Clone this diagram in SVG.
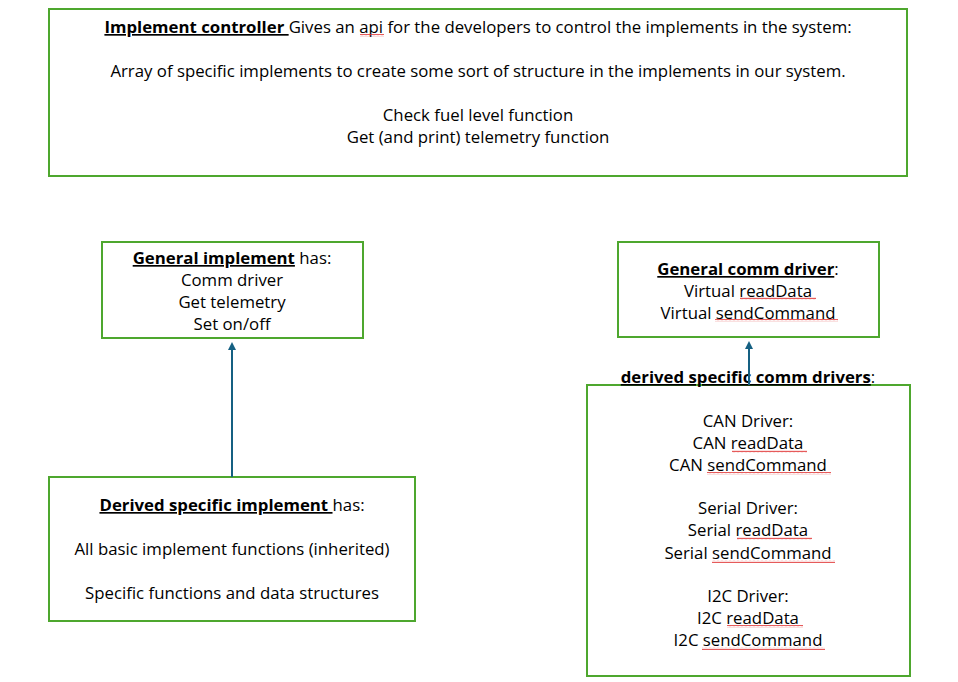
<svg xmlns="http://www.w3.org/2000/svg" width="958" height="682" viewBox="0 0 958 682">
<style>
.box{fill:#fff;stroke:#4ea72e;stroke-width:2}
text{font-family:"Open Sans","Liberation Sans",Arial,sans-serif;font-size:16.8px;fill:#000;text-anchor:middle}
.b{font-weight:bold;text-decoration:underline}
.conn{stroke:#156082;stroke-width:2;fill:none}
.sq{fill:url(#wave)}
</style>
<defs>
<marker id="ah" markerWidth="8" markerHeight="8" refX="4" refY="4" orient="auto" markerUnits="userSpaceOnUse">
<path d="M0,0 L8,4 L0,8 z" fill="#156082"/>
</marker>
<pattern id="wave" patternUnits="userSpaceOnUse" width="4" height="3">
<path d="M0,2.2 L1,0.8 L2,2.2 L3,0.8 L4,2.2" fill="none" stroke="#e03030" stroke-width="0.8"/>
</pattern>
</defs>
<rect width="958" height="682" fill="#fff"/>
<g id="controller">
<rect class="box" x="49" y="9" width="858" height="167"/>
<text x="478" y="33"><tspan class="b">Implement controller </tspan>Gives an api for the developers to control the implements in the system:</text>
<text x="478" y="77">Array of specific implements to create some sort of structure in the implements in our system.</text>
<text x="478" y="121">Check fuel level function</text>
<text x="478" y="143">Get (and print) telemetry function</text>
<rect class="sq" x="360" y="34" width="24" height="3"/>
</g>
<g id="general-implement">
<rect class="box" x="102" y="242" width="261" height="96"/>
<text x="232" y="264"><tspan class="b">General implement</tspan> has:</text>
<text x="232" y="286">Comm driver</text>
<text x="232" y="308">Get telemetry</text>
<text x="232" y="330">Set on/off</text>
</g>
<g id="general-comm-driver">
<rect class="box" x="618" y="242" width="261" height="95"/>
<text x="748" y="275"><tspan class="b">General comm driver</tspan>:</text>
<text x="748" y="297">Virtual readData</text>
<text x="748" y="319">Virtual sendCommand</text>
<rect class="sq" x="740" y="297" width="76" height="3"/>
<rect class="sq" x="715" y="319" width="123" height="3"/>
</g>
<g id="derived-implement">
<rect class="box" x="49" y="477" width="366" height="144"/>
<text x="232" y="511"><tspan class="b">Derived specific implement </tspan>has:</text>
<text x="232" y="555">All basic implement functions (inherited)</text>
<text x="232" y="599">Specific functions and data structures</text>
</g>
<g id="derived-comm-drivers">
<rect class="box" x="587" y="385" width="323" height="291"/>
<text x="748" y="383"><tspan class="b">derived specific comm drivers</tspan>:</text>
<text x="748" y="427">CAN Driver:</text>
<text x="748" y="449">CAN readData</text>
<text x="748" y="471">CAN sendCommand</text>
<text x="748" y="514">Serial Driver:</text>
<text x="748" y="536">Serial readData</text>
<text x="748" y="559">Serial sendCommand</text>
<text x="748" y="602">I2C Driver:</text>
<text x="748" y="624">I2C readData</text>
<text x="748" y="646">I2C sendCommand</text>
<rect class="sq" x="732" y="450" width="75" height="3"/>
<rect class="sq" x="707" y="472" width="124" height="3"/>
<rect class="sq" x="737" y="537" width="75" height="3"/>
<rect class="sq" x="712" y="560" width="123" height="3"/>
<rect class="sq" x="727" y="625" width="76" height="3"/>
<rect class="sq" x="702" y="647" width="123" height="3"/>
</g>
<g id="connectors">
<line class="conn" x1="232" y1="477" x2="232" y2="346" marker-end="url(#ah)"/>
<line class="conn" x1="749" y1="385" x2="749" y2="345" marker-end="url(#ah)"/>
</g>
</svg>
